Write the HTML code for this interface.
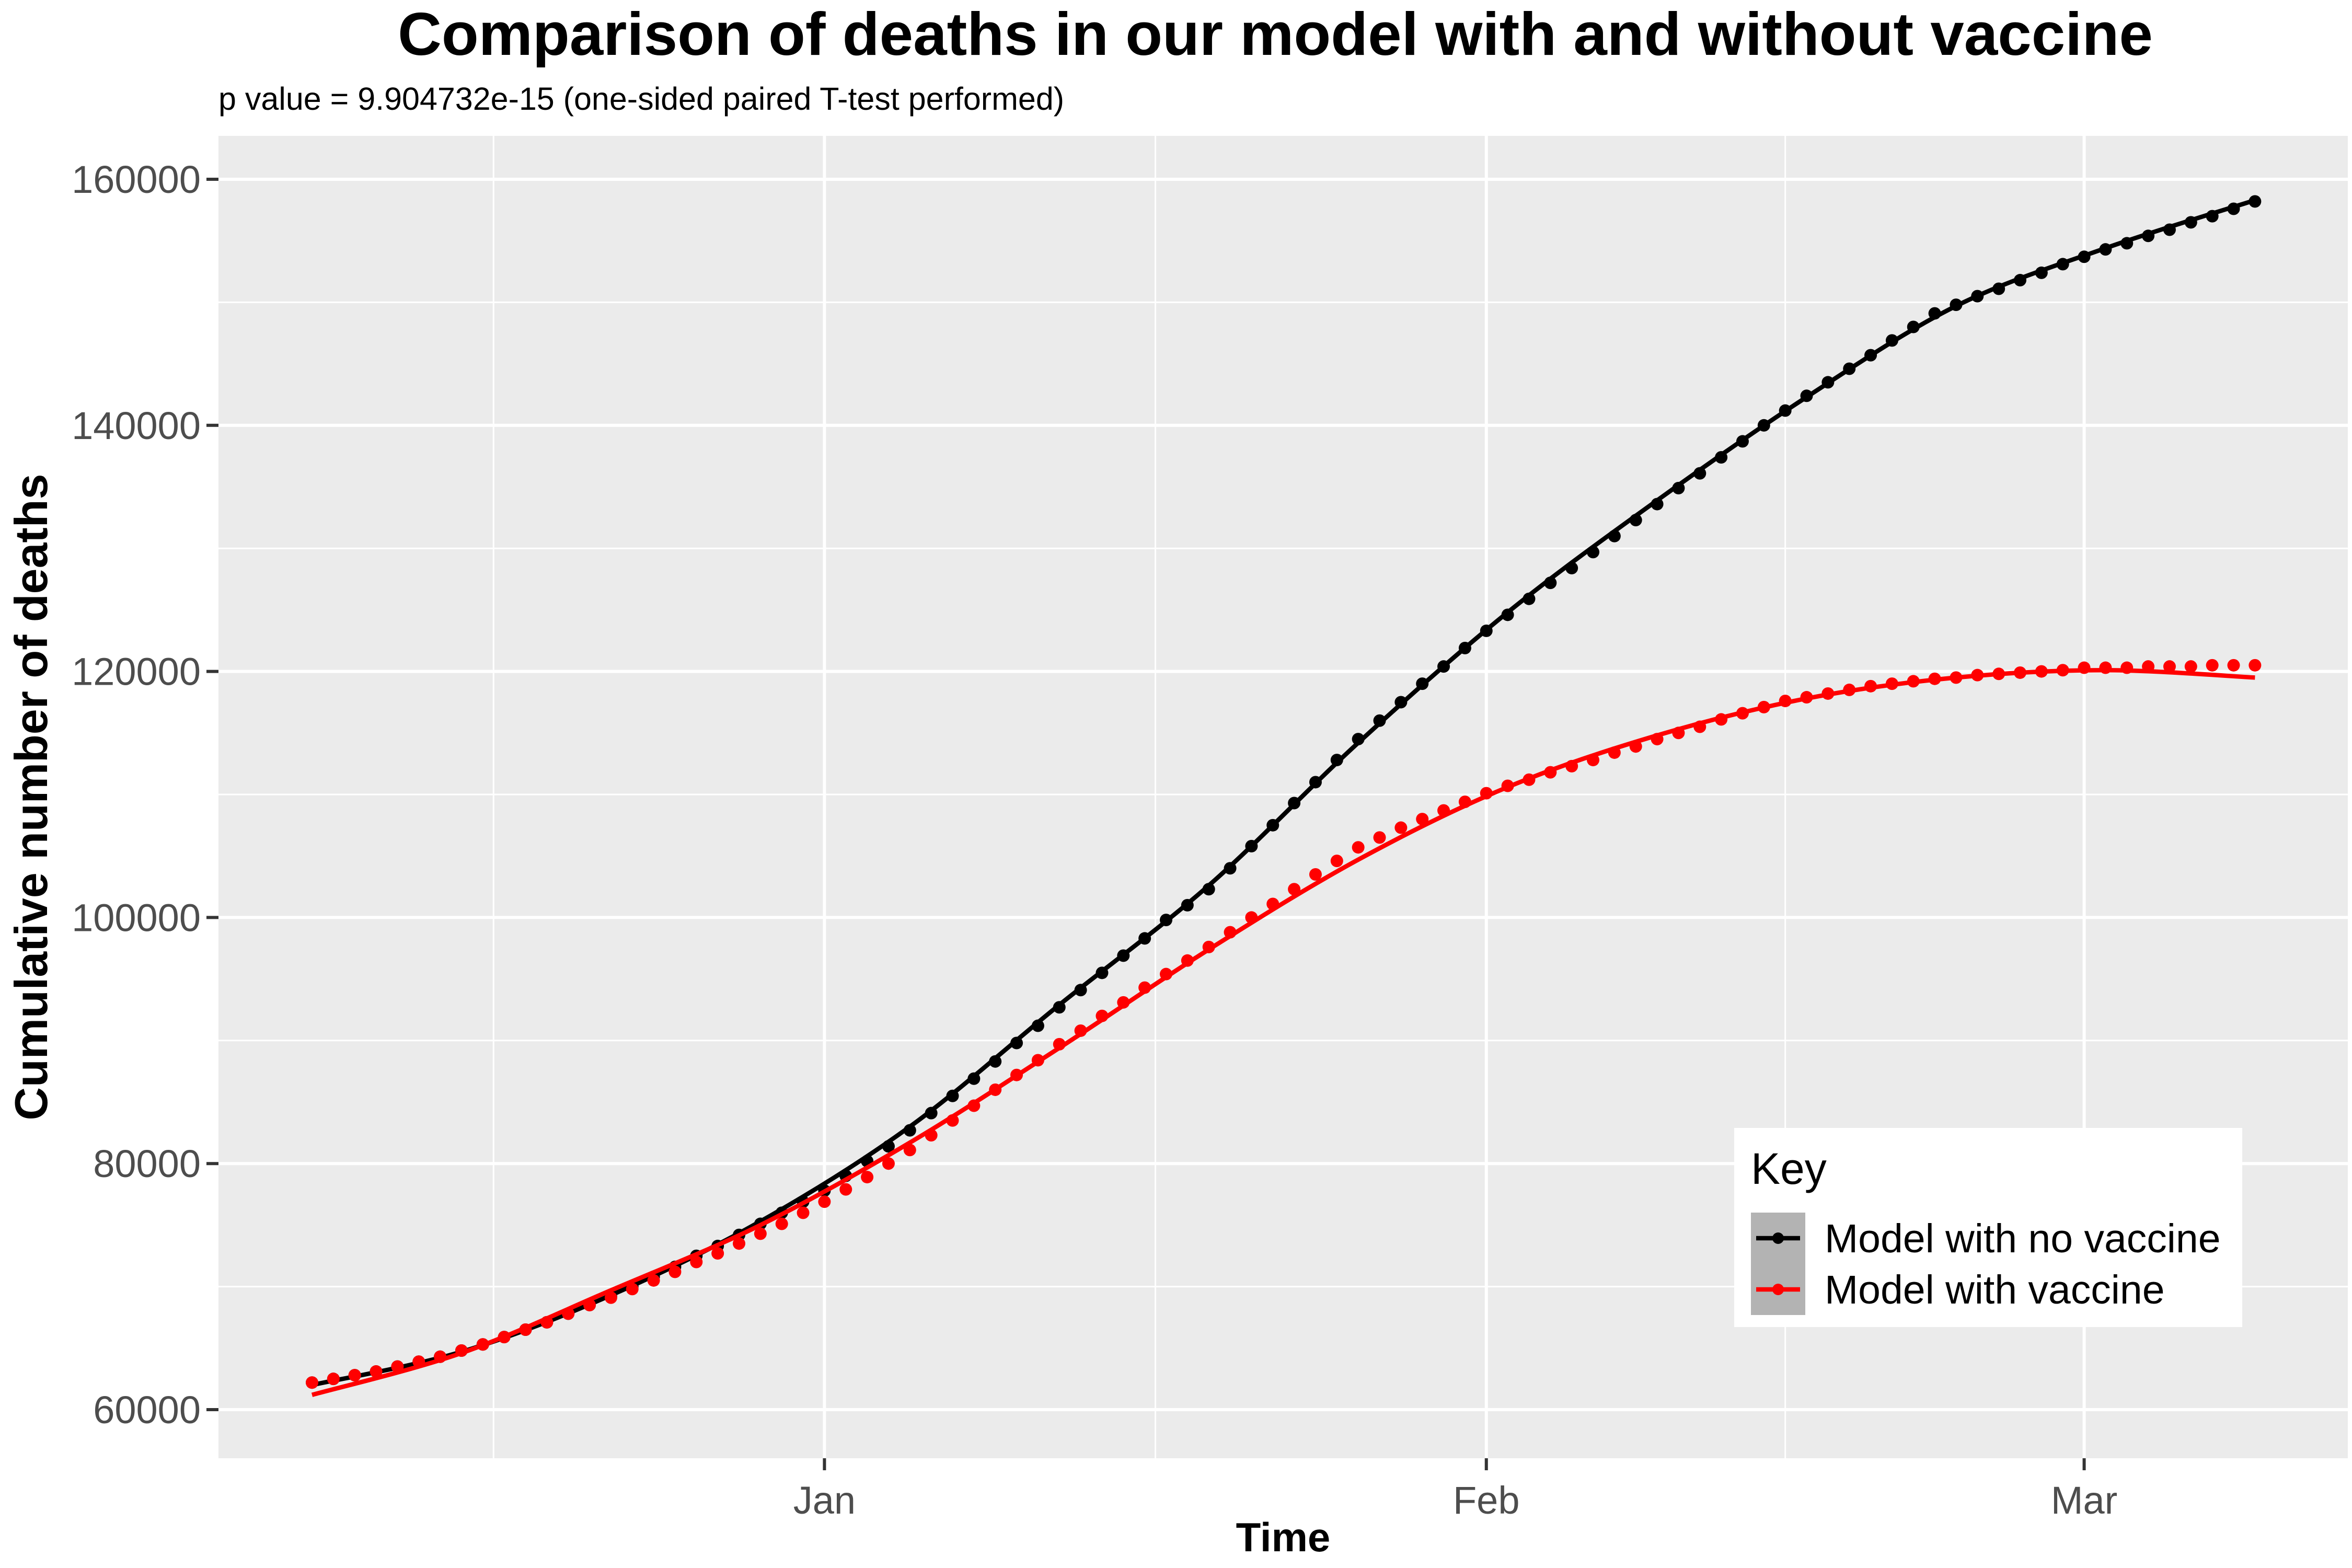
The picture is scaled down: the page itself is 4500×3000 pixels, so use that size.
<!DOCTYPE html>
<html><head><meta charset="utf-8"><style>
html,body{margin:0;padding:0;background:#fff;}
svg{display:block;font-family:"Liberation Sans",Arial,sans-serif;}
</style></head><body>
<svg id="chart" width="4500" height="3000" viewBox="0 0 4500 3000">
<text x="2440" y="105" text-anchor="middle" font-size="116" font-weight="bold" fill="#000">Comparison of deaths in our model with and without vaccine</text>
<text x="418" y="210" font-size="61" fill="#000">p value = 9.904732e-15 (one-sided paired T-test performed)</text>
<rect x="418" y="260" width="4074" height="2530" fill="#ebebeb"/>
<g id="grid"></g>
<g id="axes"></g>
<g id="series"></g>
<text x="2455" y="2968" text-anchor="middle" font-size="78" font-weight="bold">Time</text>
<text transform="translate(90,1525) rotate(-90)" text-anchor="middle" font-size="88" font-weight="bold">Cumulative number of deaths</text>
<g>
<rect x="3318" y="2158" width="972" height="381" fill="#fff"/>
<text x="3350" y="2265" font-size="84">Key</text>
<g>
<rect x="3350" y="2320" width="104" height="98" fill="#b3b3b3"/>
<line x1="3360" y1="2369" x2="3444" y2="2369" stroke="#000" stroke-width="8.5"/>
<circle cx="3402" cy="2369" r="11" fill="#000"/>
<text x="3491" y="2396" font-size="77">Model with no vaccine</text></g>
<g>
<rect x="3350" y="2418" width="104" height="98" fill="#b3b3b3"/>
<line x1="3360" y1="2467" x2="3444" y2="2467" stroke="#f00" stroke-width="8.5"/>
<circle cx="3402" cy="2467" r="11" fill="#f00"/>
<text x="3491" y="2494" font-size="77">Model with vaccine</text></g>
</g>
</svg>
<script>
// day 0 = Dec 8
const noVaccineDots=[62200,62500,62800,63100,63500,63900,64300,64800,65300,65900,66500,67100,67800,68500,69200,70000,70800,71600,72500,73300,74200,75100,76000,76900,77800,79000,80200,81400,82700,84100,85500,86900,88300,89800,91200,92700,94100,95500,96900,98300,99800,101000,102300,104000,105800,107500,109300,111000,112800,114500,116000,117500,119000,120400,121900,123300,124600,125900,127200,128400,129700,131000,132300,133600,134900,136100,137400,138700,140000,141200,142400,143500,144600,145700,146900,148000,149100,149800,150500,151100,151800,152400,153100,153700,154300,154800,155400,155900,156500,157000,157600,158200];
const vaccineDots=[62200,62500,62800,63100,63500,63900,64300,64800,65300,65900,66500,67100,67800,68500,69100,69800,70500,71200,72000,72700,73500,74300,75100,76000,76900,77900,78900,80000,81100,82300,83500,84700,86000,87200,88400,89700,90800,92000,93100,94300,95400,96500,97600,98800,100000,101100,102300,103500,104600,105700,106500,107300,108000,108700,109400,110100,110700,111200,111800,112300,112800,113400,113900,114500,115000,115500,116100,116600,117100,117600,117900,118200,118500,118800,119000,119200,119400,119500,119700,119800,119900,120000,120100,120300,120300,120300,120400,120400,120400,120500,120500,120500];
const lineDays=[0,7,14,21,28,35,42,49,56,63,70,77,84,91];
const noVaccineLine=[62000,64700,69300,75300,83000,92900,102600,114200,124800,133900,142300,149700,154400,158300];
const vaccineLine=[61200,64600,69700,75000,81700,89400,97400,104700,110600,114800,117800,119500,120100,119500];
const yTicks=[60000,80000,100000,120000,140000,160000];
const xTickLabels=["Jan","Feb","Mar"];
const xTickDays=[24,55,83];
const xMinorDays=[8.5,39.5,69];

const NS="http://www.w3.org/2000/svg";
const xS=d=>597+d*40.85;
const yS=v=>2697-(v-60000)*(2354/100000);
function mk(tag,attrs,parent){const e=document.createElementNS(NS,tag);for(const k in attrs)e.setAttribute(k,attrs[k]);parent.appendChild(e);return e;}
const grid=document.getElementById('grid'),axes=document.getElementById('axes'),ser=document.getElementById('series');
for(let i=0;i<yTicks.length-1;i++){const v=(yTicks[i]+yTicks[i+1])/2;
 const l=mk('line',{x1:418,x2:4492,y1:yS(v),y2:yS(v),stroke:'#fff','stroke-width':3},grid);
 
 }
xMinorDays.forEach(d=>{const l=mk('line',{x1:xS(d),x2:xS(d),y1:260,y2:2790,stroke:'#fff','stroke-width':3},grid);
 
 });
yTicks.forEach(v=>{const l=mk('line',{x1:418,x2:4492,y1:yS(v),y2:yS(v),stroke:'#fff','stroke-width':6},grid);
 
 
 const t=mk('line',{x1:395,x2:418,y1:yS(v),y2:yS(v),stroke:'#333','stroke-width':6},axes);
 
 
 const tx=mk('text',{x:384,y:yS(v)+26,'text-anchor':'end','font-size':74,fill:'#4d4d4d'},axes);
 tx.textContent=v;
 
 });
xTickDays.forEach((d,i)=>{const l=mk('line',{x1:xS(d),x2:xS(d),y1:260,y2:2790,stroke:'#fff','stroke-width':6},grid);
 
 
 const t=mk('line',{x1:xS(d),x2:xS(d),y1:2790,y2:2813,stroke:'#333','stroke-width':6},axes);
 
 
 const tx=mk('text',{x:xS(d),y:2896,'text-anchor':'middle','font-size':74,fill:'#4d4d4d'},axes);
 tx.textContent=xTickLabels[i];
 
 });
function curve(days,vals){const p=days.map((d,i)=>[xS(d),yS(vals[i])]);let s=`M${p[0][0]},${p[0][1]}`;
 for(let i=0;i<p.length-1;i++){const p0=p[Math.max(0,i-1)],p1=p[i],p2=p[i+1],p3=p[Math.min(p.length-1,i+2)];
 s+=` C${p1[0]+(p2[0]-p0[0])/6},${p1[1]+(p2[1]-p0[1])/6} ${p2[0]-(p3[0]-p1[0])/6},${p2[1]-(p3[1]-p1[1])/6} ${p2[0]},${p2[1]}`;}return s;}
function series(dots,line,color,name){
 const g=mk('g',{},ser);
 
 
 const pth=mk('path',{d:curve(lineDays,line),fill:'none',stroke:color,'stroke-width':8.5},g);
 
 
 dots.forEach((v,i)=>{const c=mk('circle',{cx:xS(i),cy:yS(v),r:12,fill:color},g);
 
 });}
series(noVaccineDots,noVaccineLine,'#000','no-vaccine-series');
series(vaccineDots,vaccineLine,'#f00','vaccine-series');
</script>
</body></html>
